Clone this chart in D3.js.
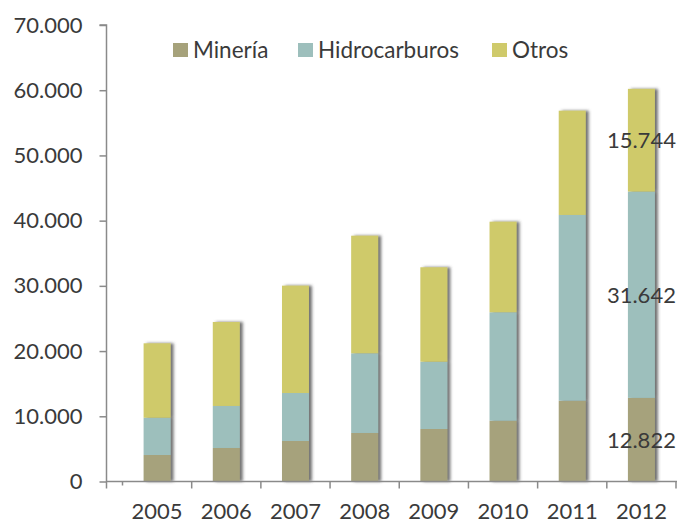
<!DOCTYPE html>
<html>
<head>
<meta charset="utf-8">
<script src="https://cdn.jsdelivr.net/npm/d3@7"></script>
<style>
  html, body { margin: 0; padding: 0; background: #fff; }
  svg { display: block; }
  text { font-family: Lato, "Open Sans", sans-serif; fill: #3a3a3a; }
</style>
</head>
<body>
<svg id="chart" width="677" height="524"></svg>
<script>
const years = ["2005", "2006", "2007", "2008", "2009", "2010", "2011", "2012"];
const mineria = [4060, 5140, 6210, 7440, 8050, 9320, 12390, 12822];
const hidrocarburos = [5720, 6440, 7360, 12220, 10320, 16630, 28480, 31642];
const otros = [11410, 12880, 16460, 18030, 14480, 13890, 15990, 15744];
const seriesNames = ["Minería", "Hidrocarburos", "Otros"];
const yTicks = [0, 10000, 20000, 30000, 40000, 50000, 60000, 70000];
const labelledYear = "2012";
const labelText = ["12.822", "31.642", "15.744"];

const colors = ["#a6a27b", "#9dbfbc", "#cfca6b"];

const svg = d3.select("#chart");
const defs = svg.append("defs");
const f = defs.append("filter").attr("id", "shadow")
  .attr("x", "-30%").attr("y", "-10%").attr("width", "160%").attr("height", "120%");
f.append("feDropShadow").attr("dx", 3).attr("dy", 0).attr("stdDeviation", 1.6)
  .attr("flood-color", "#444").attr("flood-opacity", 0.75);

const y = d3.scaleLinear().domain([0, 70000]).range([481.5, 25]);
const x = d3.scaleBand().domain(years).range([122.5, 676]).paddingInner(0.61).paddingOuter(0.305);

const table = years.map((yr, i) => ({ year: yr, "Minería": mineria[i], "Hidrocarburos": hidrocarburos[i], "Otros": otros[i] }));
const stacked = d3.stack().keys(seriesNames)(table);

// bars (one group per year so the shadow wraps the whole stack)
const barG = svg.append("g");
years.forEach((yr, i) => {
  const g = barG.append("g").attr("filter", "url(#shadow)");
  stacked.forEach((s, k) => {
    const d = s[i];
    g.append("rect")
      .attr("x", x(yr))
      .attr("width", x.bandwidth())
      .attr("y", y(d[1]))
      .attr("height", y(d[0]) - y(d[1]))
      .attr("fill", colors[k]);
  });
});

// y axis
const axisColor = "#8a8a8a";
const yAxis = d3.axisLeft(y).tickValues(yTicks).tickSize(7).tickPadding(17)
  .tickFormat(d => d3.format(",")(d).replace(/,/g, "."));
const yg = svg.append("g").attr("transform", "translate(106.5,0)").call(yAxis);
yg.select(".domain").attr("stroke", axisColor).attr("stroke-width", 1.5).attr("d", `M-7,${y(70000)}H0V${y(0)}`);
yg.selectAll(".tick line").attr("stroke", axisColor).attr("stroke-width", 1.5);
yg.selectAll(".tick text").attr("font-size", 22).attr("fill", "#3a3a3a")
  .style("font-family", "Lato, 'Open Sans', sans-serif");

// x axis
const xg = svg.append("g").attr("transform", `translate(0,${y(0)})`);
xg.append("line").attr("x1", 106).attr("x2", 677).attr("y1", 0).attr("y2", 0)
  .attr("stroke", axisColor).attr("stroke-width", 1.5);
const boundaries = years.map(yr => x(yr) - x.step() * x.paddingInner() / 2 + x.step());
const bounds = [106.5].concat(boundaries);
xg.selectAll("line.tick").data(bounds).enter().append("line")
  .attr("x1", d => d).attr("x2", d => d).attr("y1", 0).attr("y2", 7)
  .attr("stroke", axisColor).attr("stroke-width", 1.5);
xg.append("line").attr("x1", x.range()[0]).attr("x2", x.range()[0]).attr("y1", 0).attr("y2", 4)
  .attr("stroke", axisColor).attr("stroke-width", 1.5);
xg.selectAll("text.year").data(years).enter().append("text")
  .attr("x", d => x(d) + x.bandwidth() / 2)
  .attr("y", 37)
  .attr("text-anchor", "middle")
  .attr("font-size", 22)
  .text(d => d);

// value labels on the 2012 bar
const li = years.indexOf(labelledYear);
stacked.forEach((s, k) => {
  const d = s[li];
  svg.append("text")
    .attr("x", x(labelledYear) + x.bandwidth() / 2)
    .attr("y", (y(d[0]) + y(d[1])) / 2)
    .attr("dy", "0.36em")
    .attr("text-anchor", "middle")
    .attr("font-size", 22)
    .text(labelText[k]);
});

// legend
const legendX = [173, 298, 492];
const lg = svg.append("g");
seriesNames.forEach((n, k) => {
  lg.append("rect").attr("x", legendX[k]).attr("y", 43).attr("width", 15).attr("height", 14).attr("fill", colors[k]);
  lg.append("text").attr("x", legendX[k] + 20).attr("y", 57.5).attr("font-size", 22.5).text(n);
});
</script>
</body>
</html>
